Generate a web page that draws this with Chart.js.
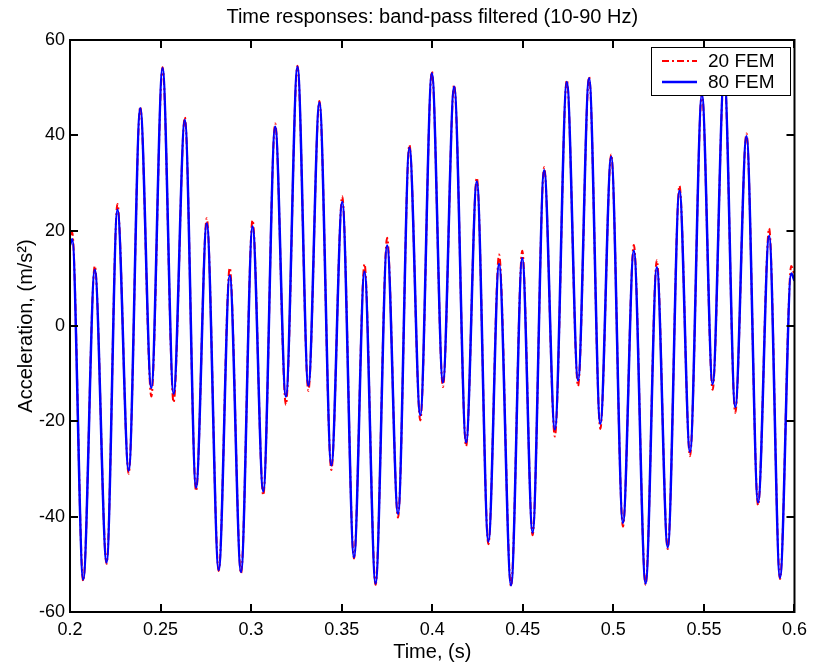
<!DOCTYPE html>
<html>
<head>
<meta charset="utf-8">
<script src="https://cdn.jsdelivr.net/npm/chart.js@4.4.0/dist/chart.umd.min.js"></script>
<style>
  html, body { margin: 0; padding: 0; background: #fff; }
  #wrap { width: 814px; height: 664px; }
</style>
</head>
<body>
<div id="wrap"><canvas id="accChart" width="814" height="664"></canvas></div>
<script>
// turning points of the response (time in s)
var times = [0.2, 0.2012,
  0.2073, 0.2137, 0.2202, 0.2262, 0.2324, 0.2388, 0.2449, 0.2511, 0.2572, 0.2634,
  0.2696, 0.2755, 0.2821, 0.2882, 0.2944, 0.3008, 0.3067, 0.3133, 0.3192, 0.3256,
  0.3316, 0.3377, 0.3443, 0.3503, 0.3568, 0.3626, 0.3687, 0.3751, 0.3811, 0.3874,
  0.3934, 0.3998, 0.4059, 0.4121, 0.4187, 0.4246, 0.4310, 0.4369, 0.4435, 0.4497,
  0.4554, 0.4618, 0.4677, 0.4743, 0.4805, 0.4866, 0.4928, 0.4988, 0.5053, 0.5113,
  0.5178, 0.5240, 0.5300, 0.5365, 0.5423, 0.5489, 0.5548, 0.5612, 0.5673, 0.5735,
  0.5799, 0.5860, 0.5920, 0.5982,
  0.6];

// 80 FEM model (m/s^2)
var fem80 = [17.0, 18.2,
  -53.2, 11.8, -49.6, 24.4, -30.3, 45.7, -13.0, 54.1, -14.2, 43.2,
  -33.9, 21.5, -51.2, 10.6, -51.6, 20.9, -34.7, 41.8, -14.8, 54.4,
  -12.5, 46.9, -29.2, 26.0, -48.5, 11.4, -54.0, 16.9, -39.4, 37.4,
  -18.7, 53.0, -11.8, 50.2, -24.4, 30.3, -45.2, 13.0, -54.4, 14.2,
  -43.3, 32.7, -21.7, 51.2, -11.4, 52.0, -20.5, 35.5, -41.3, 15.8,
  -54.0, 12.3, -46.4, 28.4, -26.4, 48.5, -12.2, 53.0, -17.0, 39.8,
  -37.0, 18.9, -52.8, 11.0,
  9.5];

// 20 FEM model (m/s^2), peaks poke out a little past the blue line
var fem20 = [19.0, 19.6,
  -53.5, 12.6, -49.9, 25.6, -31.0, 46.0, -14.8, 54.3, -16.0, 43.8,
  -34.6, 22.6, -51.4, 12.2, -51.9, 22.2, -35.5, 42.5, -16.5, 54.6,
  -13.6, 47.2, -30.2, 27.2, -48.8, 13.0, -54.3, 18.5, -40.2, 38.0,
  -19.8, 53.4, -12.8, 50.6, -25.2, 31.1, -45.8, 15.0, -54.6, 15.8,
  -43.9, 33.3, -23.2, 51.6, -12.6, 52.3, -21.6, 36.0, -42.1, 17.0,
  -54.3, 13.8, -46.8, 29.4, -27.3, 48.9, -13.4, 53.3, -18.2, 40.4,
  -37.6, 20.5, -53.1, 12.6,
  10.5];

var seriesNames = ['20 FEM', '80 FEM'];
var xTicks = [0.2, 0.25, 0.3, 0.35, 0.4, 0.45, 0.5, 0.55, 0.6];
var yTicks = [-60, -40, -20, 0, 20, 40, 60];

var FONT = '"Liberation Sans", Arial, Helvetica, sans-serif';
Chart.defaults.font.family = FONT;
Chart.defaults.color = '#000';

function toPoints(values) {
    return times.map(function (t, i) { return { x: t, y: values[i] }; });
}

// box round the plot with inward ticks on all four sides (matlab style)
var frameAndTicks = {
    id: 'frameAndTicks',
    afterDatasetsDraw: function (chart) {
        var ctx = chart.ctx, area = chart.chartArea;
        var xs = chart.scales.x, ys = chart.scales.y;
        ctx.save();
        ctx.strokeStyle = '#000';
        ctx.lineWidth = 2;
        ctx.beginPath();
        xTicks.forEach(function (v) {
            var px = Math.round(xs.getPixelForValue(v));
            ctx.moveTo(px, area.bottom); ctx.lineTo(px, area.bottom - 8);
            ctx.moveTo(px, area.top); ctx.lineTo(px, area.top + 8);
        });
        yTicks.forEach(function (v) {
            var py = Math.round(ys.getPixelForValue(v));
            ctx.moveTo(area.left, py); ctx.lineTo(area.left + 8, py);
            ctx.moveTo(area.right, py); ctx.lineTo(area.right - 8, py);
        });
        ctx.stroke();
        ctx.strokeRect(area.left, area.top, area.right - area.left, area.bottom - area.top);
        ctx.restore();
    }
};

// legend box in the upper right corner
var boxLegend = {
    id: 'boxLegend',
    afterDraw: function (chart) {
        var ctx = chart.ctx;
        var sets = chart.data.datasets;
        var left = 651.5, top = 47.5, w = 139, h = 48;
        ctx.save();
        ctx.fillStyle = '#fff';
        ctx.fillRect(left, top, w, h);
        ctx.strokeStyle = '#000';
        ctx.lineWidth = 1;
        ctx.strokeRect(left, top, w, h);
        ctx.font = '19px ' + FONT;
        ctx.textBaseline = 'middle';
        ctx.textAlign = 'left';
        var rows = [61, 82];
        sets.forEach(function (ds, i) {
            ctx.strokeStyle = ds.borderColor;
            ctx.lineWidth = ds.borderWidth;
            ctx.setLineDash(ds.borderDash || []);
            ctx.beginPath();
            ctx.moveTo(662, rows[i]);
            ctx.lineTo(697, rows[i]);
            ctx.stroke();
            ctx.setLineDash([]);
            ctx.fillStyle = '#000';
            ctx.fillText(ds.label, 708, rows[i] + 1);
        });
        ctx.restore();
    }
};

var ctx = document.getElementById('accChart').getContext('2d');
var accChart = new Chart(ctx, {
    type: 'line',
    data: {
        datasets: [{
            label: seriesNames[0],
            data: toPoints(fem20),
            borderColor: '#ff0000',
            borderWidth: 2,
            borderDash: [7, 3, 2, 3],
            order: 1
        }, {
            label: seriesNames[1],
            data: toPoints(fem80),
            borderColor: '#0000ff',
            borderWidth: 2.5,
            order: 0
        }]
    },
    options: {
        responsive: false,
        animation: false,
        devicePixelRatio: 1,
        layout: { padding: { left: 0, right: 17, top: 0, bottom: 0 } },
        elements: {
            point: { radius: 0 },
            line: { cubicInterpolationMode: 'monotone', fill: false }
        },
        scales: {
            x: {
                type: 'linear',
                min: 0.2,
                max: 0.6,
                afterBuildTicks: function (scale) {
                    scale.ticks = xTicks.map(function (v) { return { value: v }; });
                },
                afterFit: function (scale) { scale.height = 52; },
                grid: { display: false, drawTicks: false },
                border: { display: false },
                ticks: {
                    padding: 7,
                    maxRotation: 0,
                    autoSkip: false,
                    font: { size: 18 },
                    callback: function (v) { return String(Number(v.toFixed(2))); }
                },
                title: {
                    display: true,
                    text: 'Time, (s)',
                    font: { size: 20 },
                    padding: { top: 0, bottom: 0 }
                }
            },
            y: {
                min: -60,
                max: 60,
                afterBuildTicks: function (scale) {
                    scale.ticks = yTicks.map(function (v) { return { value: v }; });
                },
                afterFit: function (scale) { scale.width = 70; },
                grid: { display: false, drawTicks: false },
                border: { display: false },
                ticks: { padding: 5, autoSkip: false, font: { size: 18 } },
                title: {
                    display: true,
                    text: 'Acceleration, (m/s²)',
                    font: { size: 20 },
                    padding: { top: 14, bottom: 0 }
                }
            }
        },
        plugins: {
            legend: { display: false },
            tooltip: { enabled: false },
            title: {
                display: true,
                fullSize: false,   // centre over the plot area, not the canvas
                text: 'Time responses: band-pass filtered (10-90 Hz)',
                font: { size: 20, weight: 'normal' },
                color: '#000',
                padding: { top: 5, bottom: 11 }
            }
        }
    },
    plugins: [frameAndTicks, boxLegend]
});
</script>
</body>
</html>
